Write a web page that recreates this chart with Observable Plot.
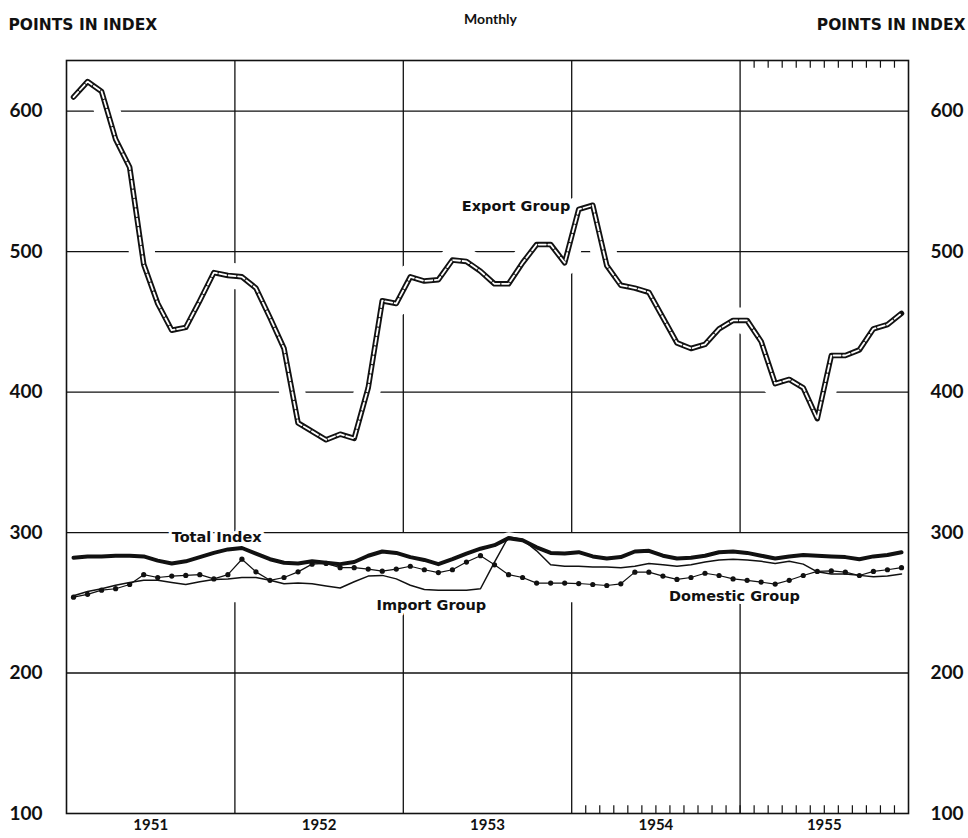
<!DOCTYPE html>
<html><head><meta charset="utf-8">
<script src="https://cdn.jsdelivr.net/npm/d3@7"></script>
<script src="https://cdn.jsdelivr.net/npm/@observablehq/plot@0.6"></script>
<style>body{margin:0;background:#fff} svg{display:block}</style>
</head><body><div id="chart"></div>
<script>
// Monthly index values, Jan 1951 - Dec 1955
const years = ["1951", "1952", "1953", "1954", "1955"];
const yTicks = [100, 200, 300, 400, 500, 600];

const exportGroup = [610, 621, 614, 580, 560, 491, 463, 444, 446, 465, 485, 483,
  482, 474, 453, 431, 378, 372, 366, 370, 367, 403, 465, 463,
  482, 479, 480, 494, 493, 486, 477, 477, 492, 505, 505, 492,
  530, 533, 490, 476, 474, 471, 453, 435, 431, 434, 445, 451,
  451, 436, 406, 409, 403, 381, 426, 426, 430, 445, 448, 456];

const totalIndex = [282, 283, 283, 283.5, 283.5, 283, 280, 278, 279.5, 282.5, 285.5, 288,
  289, 285, 281, 278.5, 278, 279.5, 278.5, 277.5, 279, 283.5, 286.5, 285.5,
  282.5, 280.5, 277.5, 281, 285, 288.5, 291, 296, 294.5, 289.5, 285.5, 285,
  286, 283, 281.5, 282.5, 286.5, 287, 283.5, 281.5, 282, 283.5, 286, 286.5,
  285.5, 283.5, 281.5, 283, 284, 283.5, 283, 282.5, 281, 283, 284, 286];

const importGroup = [255, 258, 260, 262.5, 264.5, 266, 266, 264.5, 263, 265, 266.5, 267,
  268, 268, 266, 263.5, 264, 263.5, 262, 260.5, 265, 269, 269.5, 267,
  262.5, 259.5, 259, 259, 259, 260, 279, 297, 295, 287, 277, 276,
  276, 275.5, 275.5, 275, 276, 278, 277, 276, 277, 279, 280.5, 281,
  280.5, 279.5, 278, 279.5, 277.5, 272, 270.5, 270.5, 269.5, 268.5, 269, 270.5];

const domesticGroup = [254, 256, 259, 260, 263, 270, 268, 269, 269.5, 270, 267, 270,
  281, 272, 266, 268, 272, 277.5, 278, 275, 275, 274, 272.5, 274,
  276, 273.5, 271.5, 273.5, 279, 283.5, 277, 270, 268, 264, 264, 264,
  263.7, 263, 262.3, 263.5, 271.8, 271.8, 269, 266.6, 268, 271, 269.4, 267,
  266, 264.7, 263.3, 266, 269.4, 272.3, 272.7, 271.8, 269.4, 272.3, 273.5, 275];

const exportLabel = [{name: "Export Group", m: 35.9, v: 532}];
const seriesLabels = [
  {name: "Total Index", m: 10.7, v: 296.5},
  {name: "Import Group", m: 26, v: 248},
  {name: "Domestic Group", m: 47.6, v: 254.5}
];

const toRows = vals => vals.map((v, i) => ({m: i + 0.5, v}));
const ex = toRows(exportGroup), tot = toRows(totalIndex),
      imp = toRows(importGroup), dom = toRows(domesticGroup);

const yearBounds = [12, 24, 36, 48];
const bottomTicks = d3.range(37, 60);
const topTicks = d3.range(49, 60);
const font = "Lato, 'DejaVu Sans', sans-serif";
const wide = "'DejaVu Sans', sans-serif";
const labelStyle = {x: "m", y: "v", text: "name", fontFamily: wide, fontSize: 14.5,
  fontWeight: "bold", fill: "#111", stroke: "#fff", strokeWidth: 6};

const chart = Plot.plot({
  width: 968, height: 838,
  marginLeft: 66, marginRight: 60, marginTop: 60, marginBottom: 25,
  x: {domain: [0, 60], axis: null},
  y: {domain: [100, 636], axis: null},
  style: {fontFamily: font, background: "#fff", color: "#111"},
  marks: [
    // grid
    Plot.ruleY(yTicks.slice(1), {y: d => d, stroke: "#111", strokeWidth: 1.3}),
    Plot.ruleX(yearBounds, {x: d => d, y1: 300, y2: 636, stroke: "#111", strokeWidth: 1.3}),
    Plot.ruleX(yearBounds, {x: d => d, y1: 100, y2: 250, stroke: "#111", strokeWidth: 1.3}),
    Plot.ruleX(bottomTicks, {x: d => d, y1: 100, y2: 105.5, stroke: "#111", strokeWidth: 1.2}),
    Plot.ruleX(topTicks, {x: d => d, y1: 636, y2: 630.5, stroke: "#111", strokeWidth: 1.2}),
    // halos that break the grid
    Plot.line(ex, {x: "m", y: "v", stroke: "#fff", strokeWidth: 26}),
    Plot.line(tot, {x: "m", y: "v", stroke: "#fff", strokeWidth: 12}),
    // series labels (white halo cuts the grid, not the lines)
    Plot.text(exportLabel, {...labelStyle, textAnchor: "end"}),
    Plot.text(seriesLabels, {...labelStyle, textAnchor: "middle"}),
    // series
    Plot.line(imp, {x: "m", y: "v", stroke: "#111", strokeWidth: 1.5}),
    Plot.line(dom, {x: "m", y: "v", stroke: "#111", strokeWidth: 1.2}),
    Plot.dot(dom, {x: "m", y: "v", r: 2.6, fill: "#111"}),
    Plot.line(tot, {x: "m", y: "v", stroke: "#111", strokeWidth: 4}),
    Plot.line(ex, {x: "m", y: "v", stroke: "#111", strokeWidth: 5.5}),
    Plot.line(ex, {x: "m", y: "v", stroke: "#fff", strokeWidth: 1.8, strokeDasharray: "7,2.5"}),
    Plot.frame({stroke: "#111", strokeWidth: 1.6}),
    // y axis labels, both sides
    Plot.text(yTicks, {x: 0, y: d => d, text: d => String(d), textAnchor: "end", dx: -24,
      fontSize: 19, fontWeight: "bold", fill: "#111"}),
    Plot.text(yTicks, {x: 60, y: d => d, text: d => String(d), textAnchor: "start", dx: 22,
      fontSize: 19, fontWeight: "bold", fill: "#111"}),
    // year labels
    Plot.text(years, {x: (d, i) => i * 12 + 6, frameAnchor: "bottom", dy: 16, text: d => d,
      fontSize: 15, fontWeight: "bold", fill: "#111"}),
    // header texts
    Plot.text(["POINTS IN INDEX"], {frameAnchor: "top-left", dx: -58, dy: -42, textAnchor: "start",
      fontFamily: wide, fontSize: 15.5, fontWeight: "bold", fill: "#111"}),
    Plot.text(["POINTS IN INDEX"], {frameAnchor: "top-right", dx: 57, dy: -42, textAnchor: "end",
      fontFamily: wide, fontSize: 15.5, fontWeight: "bold", fill: "#111"}),
    Plot.text(["Monthly"], {frameAnchor: "top", dx: 3, dy: -46,
      fontSize: 14, fontWeight: "bold", fill: "#111"})
  ]
});
document.getElementById("chart").append(chart);
</script>
</body></html>
